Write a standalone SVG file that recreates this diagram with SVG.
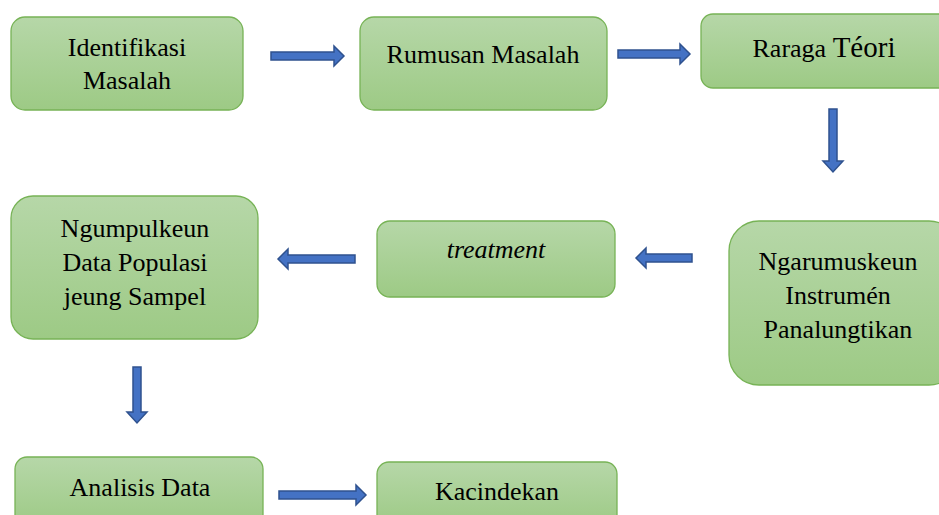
<svg xmlns="http://www.w3.org/2000/svg" width="939" height="515" viewBox="0 0 939 515">
<defs>
<linearGradient id="g" x1="0" y1="0" x2="0" y2="1">
<stop offset="0" stop-color="#B6D7A8"/>
<stop offset="1" stop-color="#9DCA85"/>
</linearGradient>
</defs>
<style>
.box{fill:url(#g);stroke:#77B356;stroke-width:1.3}
.ar{fill:#4472C4;stroke:#2F528F;stroke-width:1.5}
</style>
<rect width="939" height="515" fill="#fff"/>
<g font-family="'Liberation Serif', 'Times New Roman', serif" font-size="26" fill="#000" text-anchor="middle">
<g id="n1"><rect class="box" x="11" y="17" width="232" height="93" rx="14"/><text x="127" y="56">Identifikasi</text><text x="127" y="89">Masalah</text></g>
<g id="n2"><rect class="box" x="360" y="17" width="247" height="93" rx="14"/><text x="483" y="63">Rumusan Masalah</text></g>
<g id="n3"><rect class="box" x="701" y="14" width="250" height="74" rx="12"/><text x="824" y="57">Raraga <tspan font-size="29">Téori</tspan></text></g>
<g id="n4"><rect class="box" x="729" y="221" width="230" height="164" rx="30"/><text x="838" y="270">Ngarumuskeun</text><text x="838" y="304">Instrumén</text><text x="838" y="338">Panalungtikan</text></g>
<g id="n5"><rect class="box" x="377" y="221" width="238" height="76" rx="13"/><text x="496" y="258" font-style="italic">treatment</text></g>
<g id="n6"><rect class="box" x="11" y="196" width="247" height="143" rx="22"/><text x="135" y="237">Ngumpulkeun</text><text x="135" y="271">Data Populasi</text><text x="135" y="305">jeung Sampel</text></g>
<g id="n7"><rect class="box" x="15" y="457" width="248" height="70" rx="12"/><text x="140" y="496">Analisis Data</text></g>
<g id="n8"><rect class="box" x="377" y="462" width="240" height="65" rx="12"/><text x="497" y="500">Kacindekan</text></g>
</g>
<g id="connectors">
<path class="ar" d="M271,52 H334 V46 L344,56 L334,66 V60 H271 Z"/>
<path class="ar" d="M618,50 H680 V44 L690,54 L680,64 V58 H618 Z"/>
<path class="ar" d="M829,109 V161 H823 L833,172 L843,161 H837 V109 Z"/>
<path class="ar" d="M692,254 H646 V248 L636,258 L646,268 V262 H692 Z"/>
<path class="ar" d="M355,255 H288 V249 L278,259 L288,269 V263 H355 Z"/>
<path class="ar" d="M133,367 V412 H127 L137,423 L147,412 H141 V367 Z"/>
<path class="ar" d="M279,491 H356 V485 L366,495 L356,505 V499 H279 Z"/>
</g>
</svg>
